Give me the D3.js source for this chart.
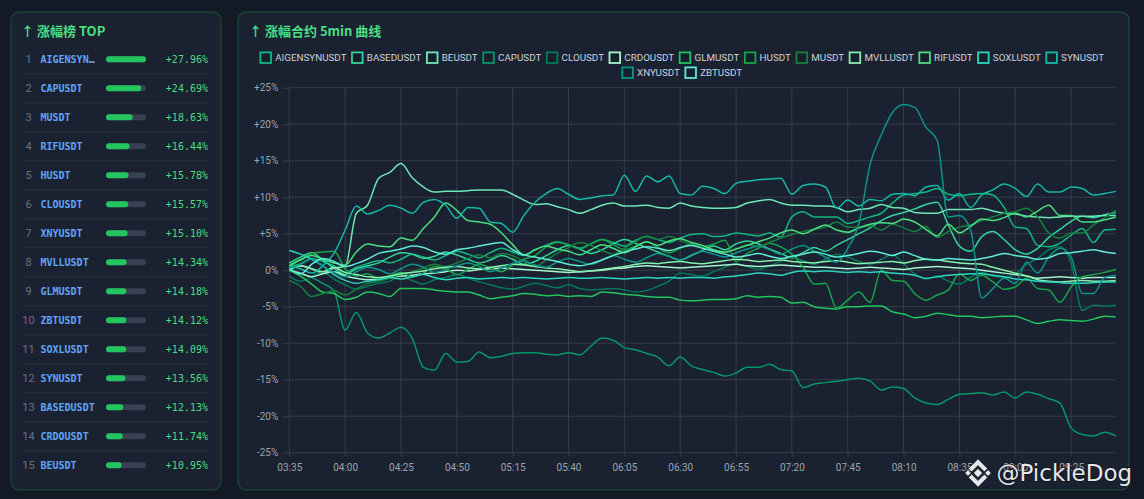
<!DOCTYPE html>
<html>
<head>
<meta charset="utf-8">
<script src="https://cdn.jsdelivr.net/npm/d3@7"></script>
<style>
  body { margin: 0; background: #131925; }
  svg { display: block; }
</style>
</head>
<body>
<svg id="chart" width="1144" height="499"></svg>
<script>
// ---- leaderboard data ----
var rankNames = ["AIGENSYNUSDT","CAPUSDT","MUSDT","RIFUSDT","HUSDT","CLOUSDT","XNYUSDT","MVLLUSDT",
                 "GLMUSDT","ZBTUSDT","SOXLUSDT","SYNUSDT","BASEDUSDT","CRDOUSDT","BEUSDT"];
var rankValues = [27.96, 24.69, 18.63, 16.44, 15.78, 15.57, 15.10, 14.34, 14.18, 14.12, 14.09, 13.56, 12.13, 11.74, 10.95];

// ---- 5min curve data ----
var times = ["03:35","03:40","03:45","03:50","03:55","04:00","04:05","04:10","04:15","04:20",
             "04:25","04:30","04:35","04:40","04:45","04:50","04:55","05:00","05:05","05:10",
             "05:15","05:20","05:25","05:30","05:35","05:40","05:45","05:50","05:55","06:00",
             "06:05","06:10","06:15","06:20","06:25","06:30","06:35","06:40","06:45","06:50",
             "06:55","07:00","07:05","07:10","07:15","07:20","07:25","07:30","07:35","07:40",
             "07:45","07:50","07:55","08:00","08:05","08:10","08:15","08:20","08:25","08:30",
             "08:35","08:40","08:45","08:50","08:55","09:00","09:05","09:10","09:15","09:20",
             "09:25","09:30","09:35","09:40","09:45"];
var xTicks = ["03:35","04:00","04:25","04:50","05:15","05:40","06:05","06:30","06:55","07:20","07:45","08:10","08:35","09:00","09:25"];
var yTicks = [25, 20, 15, 10, 5, 0, -5, -10, -15, -20, -25];

var seriesNames = ["AIGENSYNUSDT","BASEDUSDT","BEUSDT","CAPUSDT","CLOUSDT","CRDOUSDT","GLMUSDT","HUSDT",
                   "MUSDT","MVLLUSDT","RIFUSDT","SOXLUSDT","SYNUSDT","XNYUSDT","ZBTUSDT"];
var seriesColors = ["#10b981","#34d399","#6ee7b7","#059669","#047857","#a7f3d0","#22c55e","#16a34a",
                    "#15803d","#86efac","#4ade80","#2dd4bf","#14b8a6","#0d9488","#5eead4"];

var AIGENSYNUSDT = [0.5, 0.9, 1.6, 1.2, 0.6, -0.3, 0.4, 0.9, 1.3, 1.0,
  1.5, 2.2, 1.8, 1.4, 2.0, 2.6, 2.2, 1.7, 2.4, 3.0,
  2.5, 2.0, 2.8, 3.4, 3.9, 3.5, 3.0, 3.6, 4.2, 3.8,
  3.3, 4.1, 4.6, 4.2, 3.8, 4.4, 4.9, 5.0, 4.6, 4.7,
  5.1, 4.9, 4.7, 5.1, 4.5, 7.3, 8.0, 7.3, 7.3, 7.3,
  6.4, 6.8, 7.3, 7.8, 9.2, 10.3, 10.5, 10.7, 11.2, 10.4,
  10.2, 10.4, 10.5, 10.3, 8.6, 5.9, 5.7, 3.4, 3.2, 3.7,
  4.8, 5.7, 3.8, 5.5, 5.6];
var BASEDUSDT = [1.0, 1.8, 2.4, 1.4, 0.3, -0.6, 0.2, 0.6, 1.0, 1.8,
  2.4, 2.2, 1.6, 1.9, 2.5, 2.1, 1.5, 1.0, 1.4, 2.0,
  1.5, 0.8, 1.2, 2.0, 2.8, 3.4, 2.9, 2.3, 2.8, 3.6,
  4.2, 3.7, 3.1, 2.5, 1.9, 1.4, 2.0, 2.7, 3.3, 2.8,
  3.6, 4.0, 3.6, 2.9, 2.3, 1.7, 2.4, 3.1, 2.6, 3.4,
  4.2, 5.0, 5.8, 6.8, 7.5, 7.9, 8.4, 9.0, 9.3, 6.2,
  3.3, 2.6, 4.6, 5.3, 4.2, 2.8, 2.2, 3.0, 4.5, 5.6,
  6.7, 7.4, 7.2, 7.6, 7.9];
var BEUSDT = [0, 0.6, 0.2, -0.4, 0.3, 0.5, 7.8, 8.9, 12.6, 13.4,
  14.6, 12.7, 11.4, 10.7, 10.8, 10.8, 10.9, 11.0, 11.0, 11.0,
  10.4, 9.6, 9.0, 9.1, 8.7, 8.3, 7.8, 8.3, 8.9, 9.2,
  8.8, 8.8, 8.9, 8.6, 8.5, 9.2, 8.8, 8.6, 8.5, 8.5,
  8.6, 9.2, 9.5, 9.7, 9.2, 8.9, 8.9, 8.8, 8.8, 8.6,
  8.0, 8.3, 8.5, 9.0, 8.6, 8.5, 7.9, 7.8, 7.8, 8.3,
  8.3, 8.3, 8.5, 8.1, 7.8, 7.7, 7.4, 7.3, 7.2, 7.3,
  7.4, 7.4, 7.4, 7.5, 7.5];
var CAPUSDT = [0, -0.5, -1.0, -1.8, -2.8, -8.2, -5.8, -8.6, -9.3, -8.6,
  -7.8, -9.3, -13.3, -13.7, -11.4, -12.6, -12.5, -11.2, -12.0, -11.8,
  -11.4, -11.3, -11.3, -11.5, -11.6, -11.3, -11.6, -10.4, -9.3, -9.6,
  -10.6, -10.9, -11.4, -11.9, -13.1, -11.9, -13.1, -13.6, -14.0, -14.5,
  -14.1, -13.3, -13.3, -12.9, -13.6, -13.8, -16.1, -15.6, -15.4, -15.2,
  -15.0, -14.8, -15.2, -16.4, -16.0, -16.2, -17.5, -18.2, -18.4, -17.7,
  -17.0, -16.9, -16.8, -17.1, -16.7, -17.5, -16.7, -17.0, -17.6, -18.2,
  -21.6, -22.5, -22.7, -22.2, -22.7];
var CLOUSDT = [-0.8, -1.5, -0.9, -0.3, -1.2, -2.0, -2.6, -2.2, -1.8, -1.5,
  -0.8, -1.4, -1.9, -1.3, -1.0, -0.6, -1.1, -1.6, -2.0, -2.4,
  -2.6, -2.2, -1.8, -2.1, -2.4, -2.0, -2.5, -2.7, -2.6, -2.5,
  -2.7, -3.0, -2.8, -2.2, -1.5, -0.4, -0.6, -0.8, -0.2, 0.4,
  0.9, 0.5, 0.1, 0.6, 1.2, 1.8, 1.3, 0.8, 1.5, 2.2,
  1.8, 1.2, 0.8, 1.5, 2.1, 0.9, -0.5, -1.2, -0.8, -1.5,
  -1.9, -1.0, -0.3, -0.8, -1.0, -0.5, 0.8, 1.6, 2.8, 3.2,
  1.0, -5.5, -4.8, -4.9, -4.8];
var CRDOUSDT = [0, -0.4, -0.9, -0.5, -0.2, -0.8, -1.1, -1.3, -1.2, -1.0,
  -0.8, -0.7, -0.5, -0.4, -0.2, 0.0, -0.1, 0.1, 0.2, 0.3,
  0.2, 0.1, 0.0, -0.1, -0.2, -0.3, -0.2, -0.1, 0.0, 0.2,
  0.3, 0.5, 0.6, 0.5, 0.4, 0.3, 0.4, 0.5, 0.6, 0.7,
  0.8, 0.6, 0.5, 0.6, 0.7, 0.6, 0.5, 0.4, 0.4, 0.3,
  0.2, 0.3, 0.4, 0.3, 0.2, 0.1, 0.3, 0.4, 0.5, 0.4,
  0.3, 0.2, 0.0, -0.2, -0.4, -0.6, -0.8, -1.1, -1.0, -0.9,
  -1.0, -1.1, -1.0, -1.0, -1.0];
var GLMUSDT = [0, -0.8, -1.9, -3.0, -3.2, -4.0, -3.7, -3.0, -3.2, -3.6,
  -2.5, -2.5, -2.5, -2.7, -2.9, -3.0, -3.0, -3.4, -3.9, -3.7,
  -3.5, -3.2, -3.3, -3.5, -3.4, -3.6, -3.5, -3.6, -3.0, -3.1,
  -3.3, -3.4, -3.6, -3.7, -3.7, -4.1, -4.2, -4.1, -4.0, -4.0,
  -3.9, -3.5, -3.7, -3.6, -3.7, -4.5, -4.4, -5.0, -5.2, -5.3,
  -5.0, -5.0, -4.9, -4.9, -5.7, -6.0, -6.5, -6.3, -5.9, -6.1,
  -6.3, -6.3, -6.5, -6.4, -6.3, -6.3, -6.8, -7.3, -7.0, -6.8,
  -6.9, -7.0, -6.7, -6.3, -6.4];
var HUSDT = [0.8, 1.5, 2.3, 2.5, 2.6, 0.2, -0.8, -0.5, -1.2, -0.8,
  -0.3, -0.9, -0.4, 0.5, 0.2, -0.6, 0.1, 0.8, 0.3, -0.2,
  0.7, 1.5, 2.0, 3.2, 3.8, 3.5, 2.9, 3.6, 4.2, 3.5,
  2.8, 3.3, 3.9, 3.1, 2.4, 3.0, 3.6, 3.2, 3.6, 4.1,
  1.2, 2.3, 3.0, 3.7, 3.2, 2.2, 0.4, -1.9, -1.8, -5.2,
  -4.1, -3.0, -4.4, 0.0, -1.4, -1.5, -3.2, -4.1, -3.4, -2.7,
  -0.5, -1.4, -0.7, -1.6, -2.6, -2.3, -1.1, -2.5, -2.7, -4.4,
  -2.3, -0.9, -0.6, -0.3, 0.1];
var MUSDT = [-1.4, -2.2, -3.6, -3.2, -2.8, -3.4, -2.6, -1.8, -1.5, -1.1,
  -0.6, -0.2, 0.3, 0.8, 0.5, 1.0, 1.6, 2.1, 1.7, 2.3,
  2.0, 1.2, 0.5, 1.4, 2.3, 3.1, 3.8, 3.4, 2.7, 2.2,
  3.0, 3.9, 4.7, 4.2, 4.6, 4.1, 3.5, 3.2, 2.6, 2.4,
  2.9, 3.5, 3.2, 3.8, 4.4, 4.9, 5.3, 5.6, 5.9, 6.6,
  5.9, 5.9, 6.1, 5.5, 6.3, 5.8, 5.3, 6.0, 4.5, 5.3,
  5.9, 6.2, 6.8, 7.3, 7.8, 8.0, 8.5, 7.3, 5.1, 4.4,
  5.1, 5.1, 6.2, 7.2, 8.2];
var MVLLUSDT = [0.3, 0.6, 0.2, -0.2, 0.4, -0.3, -0.6, -0.9, -1.0, -0.8,
  -0.5, -0.3, -0.1, 0.2, 0.4, 0.5, 0.3, 0.2, 0.4, 0.6,
  0.8, 0.7, 0.5, 0.3, 0.2, 0.0, -0.2, -0.1, 0.1, 0.3,
  0.5, 0.8, 1.0, 0.9, 1.1, 1.2, 1.0, 0.9, 1.1, 1.3,
  1.5, 1.4, 1.2, 1.3, 1.4, 1.2, 1.1, 1.0, 1.2, 1.3,
  1.1, 0.9, 1.0, 1.1, 1.2, 1.0, 1.3, 1.5, 1.4, 1.2,
  1.0, 0.9, 0.8, 0.4, 0.0, -0.4, -0.8, -1.3, -1.5, -1.6,
  -1.5, -1.4, -1.5, -1.5, -1.4];
var RIFUSDT = [0.6, 1.4, 2.0, 1.5, 1.0, 0.7, 2.5, 3.6, 3.3, 3.2,
  4.4, 4.1, 5.7, 7.3, 9.2, 8.2, 6.8, 6.6, 6.3, 5.1,
  3.5, 2.1, 2.8, 3.3, 2.9, 2.6, 2.1, 2.8, 3.5, 3.0,
  2.4, 3.2, 3.9, 3.4, 4.0, 4.3, 3.8, 3.4, 2.8, 2.5,
  2.9, 3.4, 3.9, 4.4, 5.1, 5.5, 5.0, 5.6, 6.2, 5.5,
  5.2, 5.8, 6.3, 6.5, 6.4, 7.0, 6.6, 5.6, 4.7, 6.3,
  5.1, 6.0, 7.0, 6.8, 7.2, 7.8, 7.3, 8.1, 8.9, 7.5,
  7.5, 6.6, 6.6, 6.9, 7.3];
var SOXLUSDT = [2.7, 2.2, 1.5, 0.6, -0.6, -1.4, -1.8, -1.5, -1.3, -1.0,
  -1.2, -0.9, -0.6, -1.0, -1.3, -1.1, -1.0, -1.2, -1.1, -1.0,
  -1.1, -1.0, -1.1, -1.2, -1.1, -1.0, -1.1, -1.1, -1.0, -1.1,
  -1.2, -1.1, -1.0, -1.1, -1.0, -1.1, -1.0, -1.0, -1.1, -0.9,
  -0.8, -0.6, -0.4, -0.5, -0.7, -0.3, -0.1, -0.2, -0.1, -0.2,
  -0.3, -0.2, -0.3, -0.2, -0.4, -0.5, -0.7, -1.1, -0.9, -0.7,
  -0.6, -0.5, -0.5, -0.7, -0.9, -1.2, -1.3, -1.5, -1.6, -1.7,
  -1.8, -1.8, -1.7, -1.6, -1.6];
var SYNUSDT = [0.5, 0.2, -0.4, 0.6, 2.3, 5.5, 8.8, 7.7, 8.2, 8.9,
  8.5, 7.8, 9.3, 9.7, 8.9, 7.1, 8.6, 8.5, 6.6, 6.4,
  5.2, 7.5, 9.3, 10.5, 11.2, 10.4, 9.7, 9.9, 10.2, 10.3,
  13.0, 10.8, 12.9, 12.1, 12.9, 10.5, 10.3, 11.5, 11.2, 10.5,
  11.9, 12.2, 12.4, 12.5, 12.6, 10.4, 11.6, 11.8, 11.4, 8.5,
  9.6, 8.8, 9.7, 9.5, 10.4, 10.5, 10.2, 11.4, 11.6, 9.6,
  10.5, 8.6, 10.3, 11.0, 11.8, 11.2, 10.1, 11.8, 10.7, 10.7,
  11.4, 11.2, 10.3, 10.5, 10.8];
var XNYUSDT = [0.3, 0.8, 1.5, 0.6, -0.3, -0.9, -0.2, 0.4, 0.1, -0.5,
  0.2, 0.8, 0.4, -0.3, 0.1, 0.6, 1.0, 0.5, -0.2, 0.3,
  0.9, 1.3, 0.7, 0.4, 1.1, 1.6, 1.2, 0.8, 1.4, 2.0,
  1.5, 1.1, 1.7, 2.3, 1.9, 1.4, 2.1, 2.6, 2.2, 1.8,
  2.4, 2.9, 3.3, 2.8, 2.2, 2.9, 3.4, 2.6, 1.8, 1.1,
  3.0, 6.4, 14.5, 18.5, 21.6, 22.7, 22.3, 19.6, 17.8, 7.3,
  7.5, 5.5, -3.8, -2.5, -1.1, -1.8, 1.1, -0.4, 1.8, 3.0,
  1.8, -3.2, -3.2, -1.0, -0.7];
var ZBTUSDT = [0.2, -0.5, 0.8, 1.6, 1.2, 0.5, 0.9, 1.5, 2.3, 2.6,
  2.9, 3.3, 3.1, 2.5, 2.2, 2.8, 3.0, 3.3, 3.6, 3.8,
  2.8, 2.1, 1.8, 1.5, 1.2, 0.8, 0.6, 0.9, 1.4, 2.0,
  2.5, 2.9, 3.2, 3.0, 2.7, 3.1, 3.4, 3.0, 2.6, 2.2,
  1.8, 2.0, 2.3, 1.9, 1.6, 1.9, 2.2, 2.5, 2.2, 1.8,
  2.0, 2.3, 2.6, 2.4, 2.0, 2.5, 2.0, 1.5, 1.4, 1.6,
  1.5, 1.4, 1.6, 1.9, 2.3, 2.0, 1.8, 1.5, 1.7, 2.3,
  2.4, 2.6, 2.8, 2.5, 2.3];

var seriesValues = [AIGENSYNUSDT, BASEDUSDT, BEUSDT, CAPUSDT, CLOUSDT, CRDOUSDT, GLMUSDT, HUSDT,
                    MUSDT, MVLLUSDT, RIFUSDT, SOXLUSDT, SYNUSDT, XNYUSDT, ZBTUSDT];

var svg = d3.select("#chart");
var panelFill = "#1a2130", panelStroke = "rgba(34,197,94,0.33)";
var green = "#4ade80";

//---------------- left panel : top gainers ----------------
var board = svg.append("g");
board.append("rect")
    .attr("x", 11).attr("y", 12).attr("width", 210).attr("height", 478).attr("rx", 8)
    .attr("fill", panelFill).attr("stroke", panelStroke);

board.append("text")
    .attr("x", 21).attr("y", 36)
    .attr("fill", green)
    .style("font", "bold 13px 'Noto Sans CJK SC', sans-serif")
    .text("↑ 涨幅榜 TOP");

var rowBand = d3.scaleBand().domain(d3.range(rankNames.length)).range([44.8, 479.8]);
var barScale = d3.scaleLinear().domain([0, d3.max(rankValues)]).range([0, 40]);

var rows = board.selectAll("g.row")
    .data(rankNames.map(function(n, i){ return {name: n, value: rankValues[i], i: i}; }))
    .enter().append("g")
    .attr("class", "row")
    .attr("transform", function(d){ return "translate(0," + (rowBand(d.i) + rowBand.bandwidth()/2) + ")"; });

rows.append("text")
    .attr("x", 28.5).attr("y", 4)
    .attr("text-anchor", "middle")
    .attr("fill", "#6b7280")
    .style("font", "11px Roboto, sans-serif")
    .text(function(d){ return d.i + 1; });

rows.append("text")
    .attr("x", 40.5).attr("y", 3.5)
    .attr("fill", "#60a5fa")
    .style("font", "bold 10px 'DejaVu Sans Mono', monospace")
    .text(function(d){ return d.name.length > 9 ? d.name.slice(0, 8) + "…" : d.name; });

rows.append("rect")
    .attr("x", 106).attr("y", -3).attr("width", 40).attr("height", 6).attr("rx", 3)
    .attr("fill", "#374151");

rows.append("rect")
    .attr("x", 106).attr("y", -3).attr("height", 6).attr("rx", 3)
    .attr("width", function(d){ return barScale(d.value); })
    .attr("fill", "#22c55e");

rows.append("text")
    .attr("x", 208).attr("y", 3.5)
    .attr("text-anchor", "end")
    .attr("fill", green)
    .style("font", "10px 'DejaVu Sans Mono', monospace")
    .text(function(d){ return "+" + d.value.toFixed(2) + "%"; });

rows.filter(function(d){ return d.i < rankNames.length - 1; })
    .append("line")
    .attr("x1", 23).attr("x2", 208)
    .attr("y1", 14.5).attr("y2", 14.5)
    .attr("stroke", "#283142");

//---------------- right panel : 5min curves ----------------
var panel = svg.append("g");
panel.append("rect")
    .attr("x", 238).attr("y", 12).attr("width", 891).attr("height", 478).attr("rx", 8)
    .attr("fill", panelFill).attr("stroke", panelStroke);

panel.append("text")
    .attr("x", 249).attr("y", 36)
    .attr("fill", green)
    .style("font", "bold 13px 'Noto Sans CJK SC', sans-serif")
    .text("↑ 涨幅合约 5min 曲线");

// legend, wrapped and centred
var legendCenter = 682, legendMax = 870;
var legend = panel.append("g");
var items = legend.selectAll("g.item")
    .data(seriesNames.map(function(n, i){ return {name: n, color: seriesColors[i]}; }))
    .enter().append("g").attr("class", "item");
items.append("rect")
    .attr("x", 0.5).attr("y", -5.3).attr("width", 10.6).attr("height", 10.6)
    .attr("fill", "#16202c")
    .attr("stroke", function(d){ return d.color; })
    .attr("stroke-width", 1.8);
items.append("text")
    .attr("x", 15.3).attr("y", 3.6)
    .attr("fill", "#cbd2dc")
    .style("font", "9.8px Roboto, sans-serif")
    .text(function(d){ return d.name; });

var legendRows = [[]], rowW = [0];
items.each(function(d){
    d.w = 15.3 + this.querySelector("text").getComputedTextLength() + 5;
    var r = legendRows.length - 1;
    if (rowW[r] + d.w > legendMax) { legendRows.push([]); rowW.push(0); r++; }
    legendRows[r].push(this);
    rowW[r] += d.w;
});
legendRows.forEach(function(row, r){
    var x = legendCenter - (rowW[r] - 5) / 2;
    row.forEach(function(node){
        var d = d3.select(node).datum();
        d3.select(node).attr("transform", "translate(" + x + "," + (57.7 + r * 15) + ")");
        x += d.w;
    });
});

// scales
var plotLeft = 289.3, plotRight = 1115.8, plotTop = 87.7, plotBottom = 452.7;
var x = d3.scalePoint().domain(times).range([plotLeft, plotRight]);
var y = d3.scaleLinear().domain([-25, 25]).range([plotBottom, plotTop]);
var gridColor = "#363d4b";

var grid = panel.append("g");
grid.selectAll("line.h").data(yTicks).enter().append("line")
    .attr("x1", plotLeft).attr("x2", plotRight)
    .attr("y1", function(d){ return y(d); }).attr("y2", function(d){ return y(d); })
    .attr("stroke", gridColor);
grid.selectAll("line.v").data(xTicks).enter().append("line")
    .attr("x1", function(d){ return x(d); }).attr("x2", function(d){ return x(d); })
    .attr("y1", plotTop).attr("y2", plotBottom)
    .attr("stroke", gridColor);

var yAxis = panel.append("g")
    .attr("transform", "translate(" + plotLeft + ",0)")
    .call(d3.axisLeft(y).tickValues(yTicks).tickSize(7).tickPadding(4)
        .tickFormat(function(d){ return (d > 0 ? "+" : "") + d + "%"; }));
var xAxis = panel.append("g")
    .attr("transform", "translate(0," + plotBottom + ")")
    .call(d3.axisBottom(x).tickValues(xTicks).tickSize(4).tickPadding(7));

[yAxis, xAxis].forEach(function(ax){
    ax.select(".domain").remove();
    ax.selectAll(".tick line").attr("stroke", gridColor);
    ax.selectAll(".tick text")
        .attr("fill", "#9ca3af")
        .style("font", "10px Roboto, sans-serif");
});

// lines
var line = d3.line()
    .x(function(d, i){ return x(times[i]); })
    .y(function(d){ return y(d); })
    .curve(d3.curveMonotoneX);

panel.append("g").selectAll("path")
    .data(seriesValues)
    .enter().append("path")
    .attr("d", line)
    .attr("fill", "none")
    .attr("stroke", function(d, i){ return seriesColors[i]; })
    .attr("stroke-width", 1.5)
    .attr("stroke-linejoin", "round");

//---------------- watermark ----------------
var wm = svg.append("g").attr("transform", "translate(978,473)");
var logo = wm.append("g").attr("fill", "#e5e7eb").attr("stroke", "rgba(0,0,0,0.45)").attr("stroke-width", 1);
logo.append("path").attr("d", "M0,-4.5 L4.5,0 L0,4.5 L-4.5,0 Z");
logo.append("path").attr("d", "M-10,-3.2 L-6.8,0 L-10,3.2 L-13.2,0 Z");
logo.append("path").attr("d", "M10,-3.2 L13.2,0 L10,3.2 L6.8,0 Z");
logo.append("path").attr("d", "M0,-14 L9.5,-4.5 L6.3,-1.3 L0,-7.6 L-6.3,-1.3 L-9.5,-4.5 Z");
logo.append("path").attr("d", "M0,14 L9.5,4.5 L6.3,1.3 L0,7.6 L-6.3,1.3 L-9.5,4.5 Z");

wm.append("text")
    .attr("x", 18.5).attr("y", 8)
    .attr("fill", "#e5e7eb")
    .attr("stroke", "rgba(0,0,0,0.45)").attr("stroke-width", 1.5)
    .attr("paint-order", "stroke")
    .style("font", "23px 'DejaVu Sans', sans-serif")
    .text("@PickleDog");
</script>
</body>
</html>
